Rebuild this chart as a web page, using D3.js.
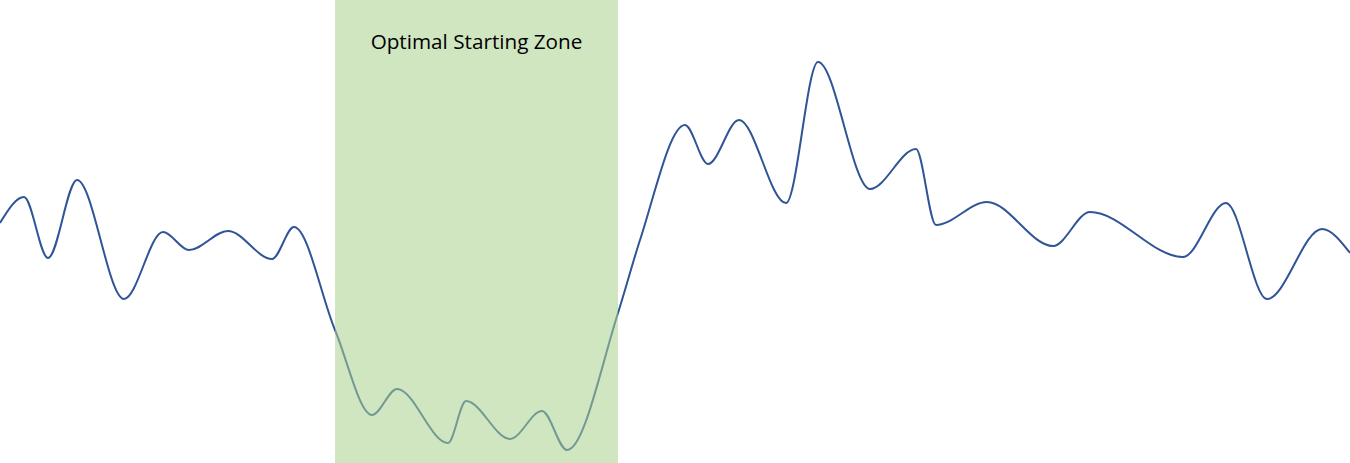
<!DOCTYPE html>
<html>
<head>
<meta charset="utf-8">
<script src="https://d3js.org/d3.v7.min.js"></script>
<style>
  html, body { margin: 0; padding: 0; background: #fff; }
  svg { display: block; }
  .zone-label { font-family: "Open Sans", Lato, sans-serif; font-size: 20.7px; fill: #000; }
</style>
</head>
<body>
<svg id="chart"></svg>
<script>
// position along the run and level (higher = up)
var positions = [0, 24, 48, 77, 124, 163, 189, 228, 272, 294, 335, 372, 397, 448, 466, 510, 542, 567, 618, 640, 685, 708, 739, 786, 818, 870, 916, 936, 987, 1053, 1090, 1183, 1226, 1267, 1322, 1350]
var levels = [240, 266, 205, 283, 164, 231, 213, 232, 204, 236, 133, 48, 74, 20, 62, 24, 52, 13, 150, 223, 338, 299, 343, 260, 401, 274, 314, 238, 261, 217, 251, 206, 260, 164, 234, 210]
var zoneStart = 335
var zoneEnd = 618
var zoneLabel = "Optimal Starting Zone"

var width = 1350, height = 463
var svg = d3.select("#chart").attr("width", width).attr("height", height)

var x = d3.scaleLinear().domain([0, 1350]).range([0, width])
var y = d3.scaleLinear().domain([0, 463]).range([height, 0])

var data = positions.map(function (p, i) { return { x: p, v: levels[i] } })

var line = d3.line()
  .x(function (d) { return x(d.x) })
  .y(function (d) { return y(d.v) })
  .curve(d3.curveMonotoneX)

svg.append("path")
  .datum(data)
  .attr("fill", "none")
  .attr("stroke", "#2F5597")
  .attr("stroke-width", 2)
  .attr("d", line)

// shaded zone sits over the line
svg.append("rect")
  .attr("x", x(zoneStart))
  .attr("y", 0)
  .attr("width", x(zoneEnd) - x(zoneStart))
  .attr("height", height)
  .attr("fill", "#A9D18E")
  .attr("fill-opacity", 0.55)

svg.append("text")
  .attr("class", "zone-label")
  .attr("x", (x(zoneStart) + x(zoneEnd)) / 2)
  .attr("y", 49)
  .attr("text-anchor", "middle")
  .text(zoneLabel)
</script>
</body>
</html>
